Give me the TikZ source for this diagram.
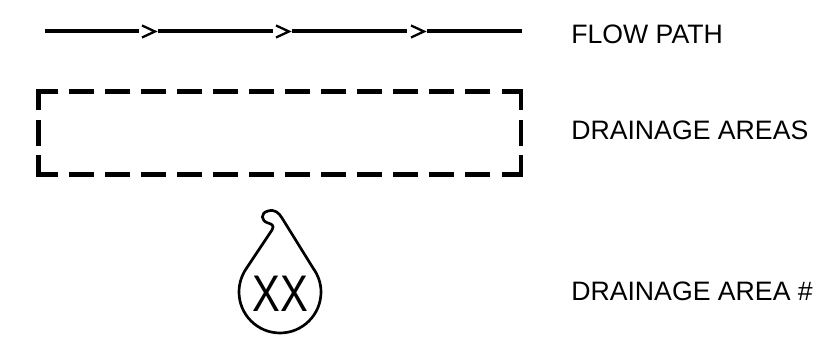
\documentclass[tikz,border=0pt]{standalone}
\usepackage{fontspec}
\setmainfont{Liberation Sans}
\tikzset{
  flowline/.style={line width=3pt,line cap=butt},
  chevron/.style={line width=1.7pt,line join=miter},
  arealine/.style={line width=3.6pt,line cap=butt,line join=miter},
  droplet/.style={line width=2pt,line join=round},
  legendlabel/.style={anchor=base west,inner sep=0pt,font=\fontsize{20pt}{24pt}\selectfont},
}
\begin{document}
\begin{tikzpicture}[x=0.75pt,y=-0.75pt]
\useasboundingbox (0,0) rectangle (817,341);
% flow path
\foreach \a/\b in {45/139,158/273,292/407,427/522}{\draw[flowline] (\a,31.5) -- (\b,31.5);}
\foreach \a in {142,276,411}{\draw[chevron] (\a,25.5) -- (\a+13,31.5) -- (\a,37.5);}
% drainage areas
\draw[arealine] (58,91.5) -- (38.5,91.5) -- (38.5,110);
\draw[arealine] (38.5,155.5) -- (38.5,174.7) -- (58,174.7);
\draw[arealine] (502,91.5) -- (521,91.5) -- (521,110);
\draw[arealine] (521,155.5) -- (521,174.7) -- (502,174.7);
\draw[arealine] (38.5,120.5) -- (38.5,145.7);
\draw[arealine] (521,120.5) -- (521,145.7);
\foreach \a in {69,105,141,177,213,249,285,321,357,393,429,465}{
  \draw[arealine] (\a,91.5) -- (\a+25,91.5);
  \draw[arealine] (\a,174.7) -- (\a+25,174.7);
}
% droplet
\draw[droplet] (272,230) .. controls (275,225) and (271,224) .. (268,223)
  .. controls (261,221) and (260,213) .. (268,211)
  .. controls (275,209) and (279,213) .. (282,218)
  -- (313,268)
  .. controls (318,275) and (321,283) .. (321,292)
  .. controls (321,314.6) and (302.6,333) .. (280,333)
  .. controls (257.4,333) and (239,314.6) .. (239,292)
  .. controls (239,283) and (242,275) .. (246,269)
  -- cycle;
\node[inner sep=0pt,anchor=base,font=\fontsize{38.6pt}{40pt}\selectfont] (xx) at (280,311.5) {\scalebox{.81}[1]{XX}};
% labels
\node[legendlabel] (l1) at (571,44) {FLOW PATH};
\node[legendlabel] (l2) at (571,139.5) {DRAINAGE AREAS};
\node[legendlabel] (l3) at (571,301) {DRAINAGE AREA \#};
\end{tikzpicture}
\end{document}
